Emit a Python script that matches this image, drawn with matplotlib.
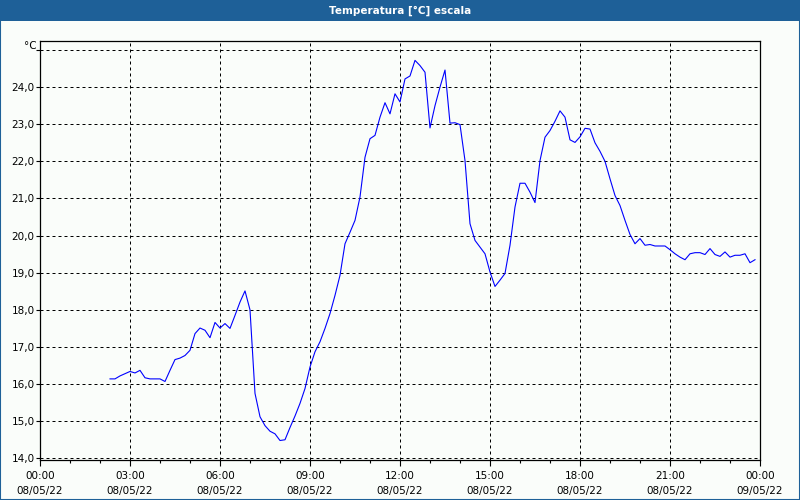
import pandas as pd
import matplotlib
matplotlib.use('Agg')
import matplotlib.pyplot as plt
import matplotlib.dates as mdates
from matplotlib.patches import Rectangle
from matplotlib.ticker import FixedLocator, FuncFormatter

# lecturas cada 10 minutos desde las 02:20
start_time = '2022-05-08 02:20'
temperature = [
    16.14, 16.14, 16.22, 16.28, 16.34, 16.30, 16.37, 16.17, 16.14, 16.14,
    16.14, 16.07, 16.37, 16.66, 16.70, 16.77, 16.91, 17.36, 17.51, 17.45,
    17.25, 17.66, 17.51, 17.63, 17.50, 17.85, 18.21, 18.51, 18.00, 15.75,
    15.12, 14.88, 14.73, 14.66, 14.48, 14.50, 14.83, 15.14, 15.48, 15.88,
    16.46, 16.87, 17.14, 17.50, 17.90, 18.39, 18.93, 19.78, 20.09, 20.41,
    21.04, 22.11, 22.61, 22.70, 23.19, 23.58, 23.28, 23.82, 23.60, 24.22,
    24.30, 24.72, 24.58, 24.40, 22.90, 23.50, 24.00, 24.46, 23.03, 23.04,
    22.99, 22.02, 20.32, 19.87, 19.69, 19.51, 19.02, 18.63, 18.80, 18.98,
    19.74, 20.77, 21.41, 21.41, 21.17, 20.89, 22.02, 22.65, 22.83, 23.08,
    23.36, 23.19, 22.58, 22.51, 22.66, 22.89, 22.87, 22.50, 22.27, 22.00,
    21.53, 21.08, 20.81, 20.41, 20.03, 19.78, 19.92, 19.74, 19.76, 19.72,
    19.72, 19.72, 19.62, 19.51, 19.42, 19.35, 19.51, 19.54, 19.54, 19.49,
    19.65, 19.49, 19.44, 19.56, 19.42, 19.47, 19.47, 19.51, 19.27, 19.35,
]
times = pd.date_range(start_time, periods=len(temperature), freq='10min')

x_start = pd.Timestamp('2022-05-08 00:00')
x_end = pd.Timestamp('2022-05-09 00:00')
y_ticks = [14, 15, 16, 17, 18, 19, 20, 21, 22, 23, 24, 25]
title = 'Temperatura [°C] escala'

bg = '#FAFDFA'
bar_color = '#1E6098'

plt.rcParams['font.family'] = ['DejaVu Sans']
fig = plt.figure(figsize=(8, 5), dpi=100, facecolor=bg)
ax = fig.add_axes([0.05, 0.08, 0.90, 0.8386])
ax.set_facecolor(bg)

ax.plot(times, temperature, color='#0000FF', lw=0.8, zorder=3)

ax.set_xlim(x_start, x_end)
ax.set_ylim(13.955, 25.25)

ax.xaxis.set_major_locator(mdates.HourLocator(byhour=range(0, 24, 3)))
ax.xaxis.set_minor_locator(mdates.HourLocator())
ax.xaxis.set_major_formatter(mdates.DateFormatter('%H:%M\n%d/%m/%y'))
ax.yaxis.set_major_locator(FixedLocator(y_ticks))
ax.yaxis.set_major_formatter(FuncFormatter(
    lambda v, p: '' if v >= 25 else f'{v:.1f}'.replace('.', ',')))

ax.grid(True, which='major', color='black', lw=0.72, linestyle=(0, (3, 3)))
ax.tick_params(axis='x', which='major', length=4, width=0.8, labelsize=7.5, pad=4)
ax.tick_params(axis='x', which='minor', length=2.5, width=0.8)
ax.tick_params(axis='y', which='major', length=3, width=0.8, labelsize=7.5, pad=1)
for lbl in ax.get_xticklabels():
    lbl.set_linespacing(1.55)
for sp in ax.spines.values():
    sp.set_color('black')
    sp.set_linewidth(0.9)

ax.text(-0.004, 25.12, '°C', transform=ax.get_yaxis_transform(),
        ha='right', va='center', fontsize=7.5)

# barra de titulo
fig.patches.append(Rectangle((0, 0.9586), 1, 0.0414, transform=fig.transFigure,
                             facecolor=bar_color, edgecolor='none', zorder=0))
fig.text(0.5, 0.979, title, color='white', fontsize=7.5, fontweight='bold',
         ha='center', va='center')
fig.patches.append(Rectangle((0, 0), 1, 1, transform=fig.transFigure,
                             facecolor='none', edgecolor=bar_color, lw=1.5, zorder=5))

fig.savefig('out.png', dpi=100, facecolor=bg)
